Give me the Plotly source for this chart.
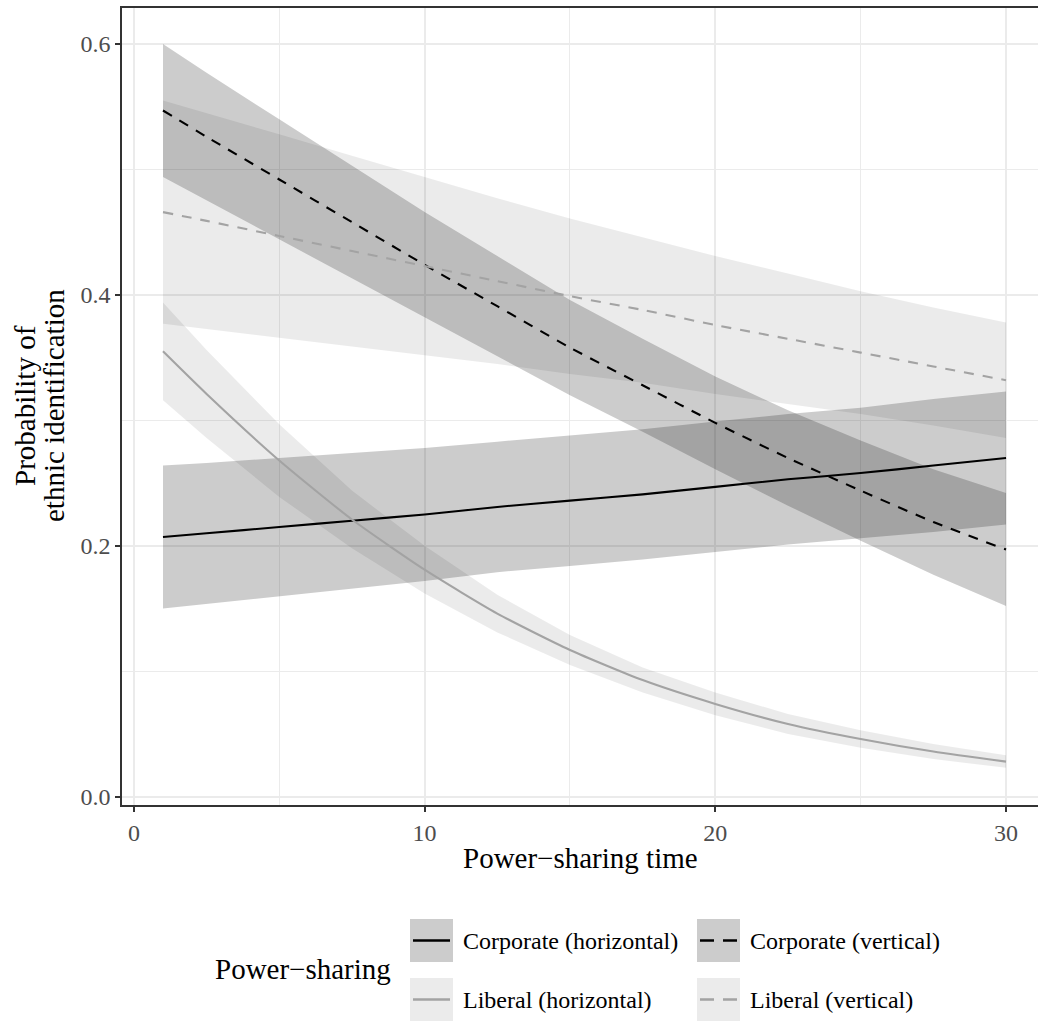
import plotly.graph_objects as go

# Predicted probability of ethnic identification by power-sharing type
time = [1, 2.5, 5, 7.5, 10, 12.5, 15, 17.5, 20, 22.5, 25, 27.5, 30]

corp_h_fit = [0.207, 0.210, 0.215, 0.220, 0.225, 0.231, 0.236, 0.241, 0.247, 0.253, 0.258, 0.264, 0.270]
corp_h_lo = [0.150, 0.154, 0.160, 0.166, 0.172, 0.179, 0.184, 0.189, 0.195, 0.201, 0.206, 0.211, 0.217]
corp_h_hi = [0.264, 0.266, 0.270, 0.274, 0.278, 0.283, 0.288, 0.293, 0.299, 0.305, 0.310, 0.317, 0.323]

corp_v_fit = [0.547, 0.526, 0.492, 0.458, 0.424, 0.391, 0.358, 0.328, 0.298, 0.270, 0.244, 0.219, 0.197]
corp_v_lo = [0.494, 0.475, 0.444, 0.413, 0.382, 0.351, 0.320, 0.291, 0.261, 0.232, 0.204, 0.177, 0.152]
corp_v_hi = [0.600, 0.577, 0.540, 0.503, 0.466, 0.431, 0.396, 0.365, 0.335, 0.308, 0.284, 0.261, 0.242]

lib_h_fit = [0.355, 0.321, 0.268, 0.221, 0.181, 0.146, 0.117, 0.093, 0.074, 0.058, 0.046, 0.036, 0.028]
lib_h_lo = [0.316, 0.286, 0.239, 0.198, 0.162, 0.131, 0.105, 0.083, 0.065, 0.050, 0.039, 0.030, 0.023]
lib_h_hi = [0.394, 0.356, 0.297, 0.244, 0.200, 0.161, 0.129, 0.103, 0.083, 0.066, 0.053, 0.042, 0.033]

lib_v_fit = [0.466, 0.459, 0.447, 0.435, 0.423, 0.411, 0.399, 0.388, 0.376, 0.365, 0.354, 0.343, 0.332]
lib_v_lo = [0.377, 0.373, 0.366, 0.359, 0.352, 0.345, 0.337, 0.330, 0.321, 0.313, 0.305, 0.296, 0.286]
lib_v_hi = [0.555, 0.545, 0.528, 0.511, 0.494, 0.477, 0.461, 0.446, 0.431, 0.417, 0.403, 0.390, 0.378]

x_ticks = [0, 10, 20, 30]
y_ticks = [0.0, 0.2, 0.4, 0.6]

FONT = "Liberation Serif"
CORP_FILL = "rgba(0,0,0,0.2)"
LIB_FILL = "rgba(0,0,0,0.08)"
CORP_LINE = "#000000"
LIB_LINE = "#a3a3a3"
DASH = "10px,9px"

series = [
    ("Corporate (horizontal)", corp_h_fit, corp_h_lo, corp_h_hi, CORP_FILL, CORP_LINE, "solid"),
    ("Corporate (vertical)", corp_v_fit, corp_v_lo, corp_v_hi, CORP_FILL, CORP_LINE, DASH),
    ("Liberal (horizontal)", lib_h_fit, lib_h_lo, lib_h_hi, LIB_FILL, LIB_LINE, "solid"),
    ("Liberal (vertical)", lib_v_fit, lib_v_lo, lib_v_hi, LIB_FILL, LIB_LINE, DASH),
]

fig = go.Figure()

# confidence ribbons first, lines on top
for name, fit, lo, hi, fill, lc, dash in series:
    fig.add_trace(go.Scatter(
        x=time + time[::-1], y=hi + lo[::-1],
        fill="toself", fillcolor=fill, line=dict(width=0),
        mode="lines", hoverinfo="skip", showlegend=False,
    ))
for name, fit, lo, hi, fill, lc, dash in series:
    fig.add_trace(go.Scatter(
        x=time, y=fit, name=name, mode="lines",
        line=dict(color=lc, width=2.1, dash=dash, shape="spline", smoothing=0.6),
        showlegend=False,
    ))

W, H = 1038, 1023
ML, MR, MT, MB = 122, 0, 8, 218
PW, PH = W - ML - MR, H - MT - MB


def px(xp):
    return (xp - ML) / PW


def py(yp):
    return (H - MB - yp) / PH


TITLE_SIZE = 29
TEXT_SIZE = 24

shapes = []
annotations = []

# legend drawn below the panel
key_cols = [410, 697]
key_rows = [919, 978]
key_size = 43
for i, (name, fit, lo, hi, fill, lc, dash) in enumerate(series):
    col, row = i % 2, i // 2
    x0, y0 = key_cols[col], key_rows[row]
    shapes.append(dict(type="rect", xref="paper", yref="paper",
                       x0=px(x0), x1=px(x0 + key_size), y0=py(y0 + key_size), y1=py(y0),
                       fillcolor=fill, line=dict(width=0), layer="above"))
    shapes.append(dict(type="line", xref="paper", yref="paper",
                       x0=px(x0 + 3), x1=px(x0 + key_size - 3),
                       y0=py(y0 + key_size / 2), y1=py(y0 + key_size / 2),
                       line=dict(color=lc, width=2.4, dash="14px,9px" if dash != "solid" else "solid"),
                       layer="above"))
    annotations.append(dict(text=name, xref="paper", yref="paper",
                            x=px(x0 + key_size + 8), y=py(y0 + key_size / 2),
                            xanchor="left", yanchor="middle", showarrow=False,
                            font=dict(family=FONT, size=TEXT_SIZE, color="black")))

annotations.append(dict(text="Power\u2212sharing", xref="paper", yref="paper",
                        x=px(213), y=py(969), xanchor="left", yanchor="middle",
                        showarrow=False, font=dict(family=FONT, size=TITLE_SIZE, color="black")))

# axis titles
annotations.append(dict(text="Power\u2212sharing time", xref="paper", yref="paper",
                        x=px((ML + W) / 2), y=py(858), xanchor="center", yanchor="middle",
                        showarrow=False, font=dict(family=FONT, size=TITLE_SIZE, color="black")))
for text, cx in [("Probability of", 25), ("ethnic identification", 54)]:
    annotations.append(dict(text=text, xref="paper", yref="paper", textangle=-90,
                            x=px(cx), y=py(406), xanchor="center", yanchor="middle",
                            showarrow=False, font=dict(family=FONT, size=TITLE_SIZE, color="black")))

fig.update_layout(
    width=W, height=H,
    margin=dict(l=ML, r=MR, t=MT, b=MB),
    paper_bgcolor="white", plot_bgcolor="white",
    font=dict(family=FONT, color="black"),
    shapes=shapes, annotations=annotations,
    showlegend=False,
)

fig.update_xaxes(
    range=[-0.41, 31.1], tickvals=x_ticks, ticktext=[str(v) for v in x_ticks],
    showgrid=True, gridcolor="#ebebeb", gridwidth=1.6,
    minor=dict(tickvals=[5, 15, 25], showgrid=True, gridcolor="#ebebeb", gridwidth=0.8, ticks=""),
    zeroline=False, showline=True, linecolor="#333333", linewidth=1.6, mirror=True,
    ticks="outside", ticklen=5, tickwidth=1.6, tickcolor="#333333",
    tickfont=dict(family=FONT, size=TEXT_SIZE, color="#4d4d4d"),
)
fig.update_yaxes(
    range=[-0.0066, 0.6287], tickvals=y_ticks, ticktext=["%.1f" % v for v in y_ticks],
    showgrid=True, gridcolor="#ebebeb", gridwidth=1.6,
    minor=dict(tickvals=[0.1, 0.3, 0.5], showgrid=True, gridcolor="#ebebeb", gridwidth=0.8, ticks=""),
    zeroline=False, showline=True, linecolor="#333333", linewidth=1.6,
    ticks="outside", ticklen=5, tickwidth=1.6, tickcolor="#333333",
    tickfont=dict(family=FONT, size=TEXT_SIZE, color="#4d4d4d"),
)

fig.write_html("out.html")
